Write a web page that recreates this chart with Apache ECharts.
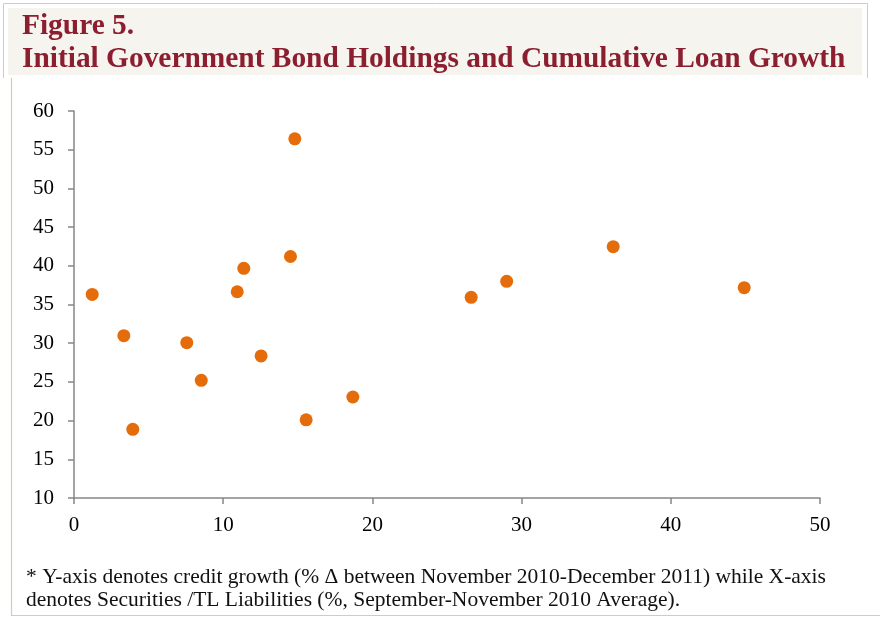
<!DOCTYPE html>
<html>
<head>
<meta charset="utf-8">
<script src="https://cdn.jsdelivr.net/npm/echarts@6/dist/echarts.min.js"></script>
<style>
html,body{margin:0;padding:0;background:#fff;}
#c{width:880px;height:617px;}
</style>
</head>
<body>
<div id="c"></div>
<script>
const titleLine1 = "Figure 5.";
const titleLine2 = "Initial Government Bond Holdings and Cumulative Loan Growth";
const footnote1 = "* Y-axis denotes credit growth (% \u0394 between November 2010-December 2011) while X-axis";
const footnote2 = "denotes Securities /TL Liabilities (%, September-November 2010 Average).";

const xValues = [1.22, 3.34, 3.94, 7.56, 8.53, 10.94, 11.38, 12.54, 14.51, 14.80, 15.56, 18.69, 26.62, 29.0, 36.14, 44.92];
const yValues = [36.3, 30.97, 18.87, 30.07, 25.2, 36.65, 39.67, 28.35, 41.2, 56.4, 20.1, 23.05, 35.93, 38.0, 42.47, 37.17];

const xTicks = [0, 10, 20, 30, 40, 50];
const yTicks = [10, 15, 20, 25, 30, 35, 40, 45, 50, 55, 60];

const points = xValues.map((x, i) => [x, yValues[i]]);

const chart = echarts.init(document.getElementById('c'), null, {renderer: 'canvas'});
const serif = '"Liberation Serif", "Times New Roman", serif';
const borderCol = '#d6cbb3';

chart.setOption({
  animation: false,
  backgroundColor: '#ffffff',
  grid: {left: 74, right: 60, top: 111, bottom: 119, containLabel: false},
  xAxis: {
    type: 'value', min: xTicks[0], max: xTicks[xTicks.length - 1], interval: 10,
    axisLine: {show: true, lineStyle: {color: '#868686', width: 1.5}},
    axisTick: {show: true, length: 6, lineStyle: {color: '#868686', width: 1.5}},
    splitLine: {show: false},
    axisLabel: {color: '#000', fontFamily: serif, fontSize: 21, margin: 17}
  },
  yAxis: {
    type: 'value', min: yTicks[0], max: yTicks[yTicks.length - 1], interval: 5,
    axisLine: {show: true, lineStyle: {color: '#868686', width: 1.5}},
    axisTick: {show: true, length: 6, lineStyle: {color: '#868686', width: 1.5}},
    splitLine: {show: false},
    axisLabel: {color: '#000', fontFamily: serif, fontSize: 21, margin: 20}
  },
  series: [{
    type: 'scatter',
    data: points,
    symbol: 'circle',
    symbolSize: 13,
    itemStyle: {color: '#E46C0A', opacity: 1}
  }],
  graphic: [
    {type: 'polyline', silent: true, z: -10, shape: {points: [[3.5, 78], [3.5, 3.5], [867.5, 3.5], [867.5, 78]]}, style: {fill: 'none', stroke: borderCol, lineWidth: 1}},
    {type: 'polyline', silent: true, z: -10, shape: {points: [[11.5, 78], [11.5, 615.5], [880, 615.5]]}, style: {fill: 'none', stroke: borderCol, lineWidth: 1.2}},
    {type: 'rect', silent: true, z: -9, shape: {x: 8, y: 8, width: 854, height: 67}, style: {fill: '#f6f4ef'}},
    {type: 'text', silent: true, left: 22, top: 12, style: {text: titleLine1, font: 'bold 29.4px ' + serif, fill: '#8b1f2f'}},
    {type: 'text', silent: true, left: 22, top: 45, style: {text: titleLine2, font: 'bold 29.4px ' + serif, fill: '#8b1f2f'}},
    {type: 'text', silent: true, left: 26, top: 566, style: {text: footnote1, font: '21.5px ' + serif, fill: '#111'}},
    {type: 'text', silent: true, left: 26, top: 589, style: {text: footnote2, font: '21.5px ' + serif, fill: '#111'}}
  ]
});
</script>
</body>
</html>
